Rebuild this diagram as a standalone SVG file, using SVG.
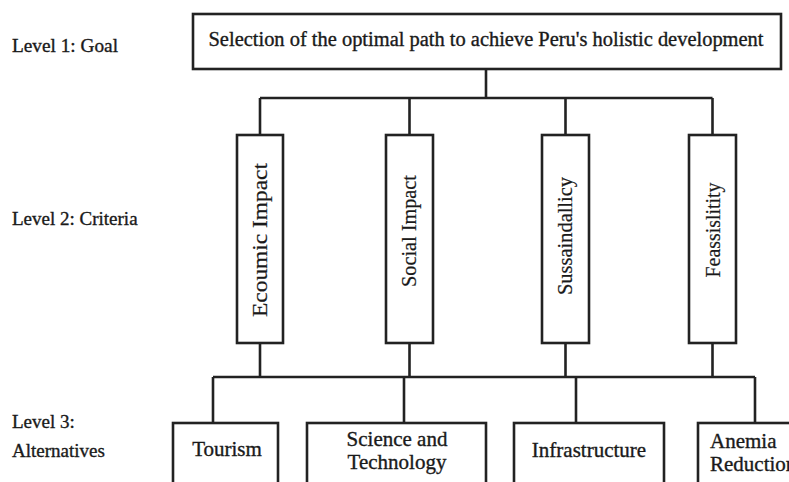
<svg xmlns="http://www.w3.org/2000/svg" width="789" height="482" viewBox="0 0 789 482">
<style>
.box{fill:#fff;stroke:#222;stroke-width:2.6}
.ln{fill:none;stroke:#222;stroke-width:2.6}
text{font-family:"Liberation Serif","Times New Roman",serif;fill:#1a1a1a;stroke:#1a1a1a;stroke-width:0.35;font-size:20px}
.lvl{font-size:19px}
.alt{font-size:21px}
.cr{font-size:20px;stroke-width:0.2}
.c{text-anchor:middle}
</style>
<rect width="789" height="482" fill="#fff"/>
<g id="labels">
<text class="lvl" x="12" y="52" textLength="106" lengthAdjust="spacingAndGlyphs">Level 1: Goal</text>
<text class="lvl" x="12" y="225">Level 2: Criteria</text>
<text class="lvl" x="12" y="428">Level 3:</text>
<text class="lvl" x="12" y="457">Alternatives</text>
</g>
<g id="connectors">
<path class="ln" d="M486,69V98M260,98H712.5M260,98V135M409.5,98V135M565.5,98V135M712.5,98V135"/>
<path class="ln" d="M260,343V377M409.5,343V377M565.5,343V377M712.5,343V377M213,377H755M213,377V423M404,377V423M576,377V423M755,377V423"/>
</g>
<g id="goal">
<rect class="box" x="193" y="14" width="588" height="55"/>
<text class="c" x="486" y="46" textLength="555" lengthAdjust="spacingAndGlyphs">Selection of the optimal path to achieve Peru's holistic development</text>
</g>
<g id="crit-economic">
<rect class="box" x="237" y="135" width="46" height="208"/>
<text class="c cr" transform="translate(267,240) rotate(-90)" textLength="154" lengthAdjust="spacingAndGlyphs">Ecoumic Impact</text>
</g>
<g id="crit-social">
<rect class="box" x="386" y="135" width="47" height="208"/>
<text class="c cr" transform="translate(416,231) rotate(-90)" textLength="112" lengthAdjust="spacingAndGlyphs">Social Impact</text>
</g>
<g id="crit-sustain">
<rect class="box" x="542" y="135" width="47" height="208"/>
<text class="c cr" transform="translate(572,236) rotate(-90)" textLength="118" lengthAdjust="spacingAndGlyphs">Sussaindallicy</text>
</g>
<g id="crit-feas">
<rect class="box" x="689" y="135" width="47" height="208"/>
<text class="c cr" transform="translate(720,230) rotate(-90)" textLength="95" lengthAdjust="spacingAndGlyphs">Feassislitity</text>
</g>
<g id="alt-tourism">
<rect class="box" x="173" y="423" width="105" height="70"/>
<text class="c alt" x="227" y="456">Tourism</text>
</g>
<g id="alt-science">
<rect class="box" x="307" y="423" width="179" height="70"/>
<text class="c alt" x="397" y="446">Science and</text>
<text class="c alt" x="397" y="469">Technology</text>
</g>
<g id="alt-infra">
<rect class="box" x="514" y="423" width="150" height="70"/>
<text class="c alt" x="589" y="457">Infrastructure</text>
</g>
<g id="alt-anemia">
<rect class="box" x="698" y="423" width="120" height="70"/>
<text class="alt" x="710" y="448">Anemia</text>
<text class="alt" x="710" y="471">Reduction</text>
</g>
</svg>
